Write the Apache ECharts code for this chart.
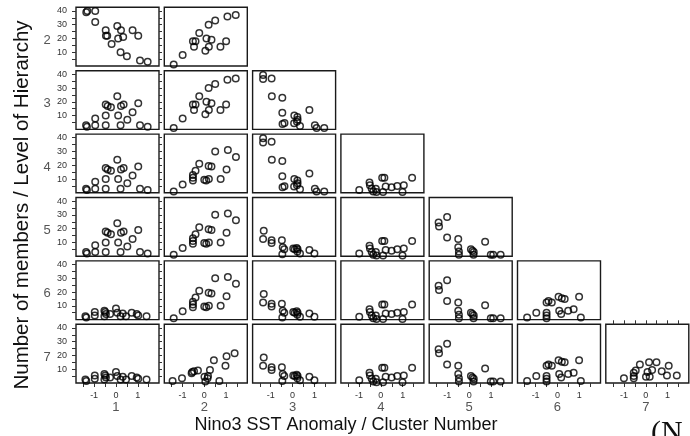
<!DOCTYPE html>
<html><head><meta charset="utf-8">
<script src="https://cdn.jsdelivr.net/npm/echarts@6/dist/echarts.min.js"></script>
<style>html,body{margin:0;padding:0;background:#fff}#c{width:690px;height:436px}</style>
</head><body><div id="c"></div>
<script>
// ---- data ----
const levels = [2, 3, 4, 5, 6, 7];            // level of hierarchy (rows)
const clusters = [1, 2, 3, 4, 5, 6, 7];       // cluster number (columns)
const xTicks = [-1.5, -1, -0.5, 0, 0.5, 1, 1.5];
const xTickLabels = [-1, 0, 1];
const yTicks = [5, 10, 15, 20, 25, 30, 35, 40];
const yTickLabels = [10, 20, 30, 40];
const xTitle = 'Nino3 SST Anomaly / Cluster Number';
const yTitle = 'Number of members / Level of Hierarchy';
const cornerText = '(N';

// [Nino3 SST anomaly, number of members] read per distinct panel
const lev2c1 = [[-1.36,39],[-1.31,40],[-0.95,40],[-0.95,32],[-0.47,26],[-0.46,22],[-0.40,22],[-0.20,16],[0.06,29],[0.23,26],[0.10,20],[0.33,21],[0.21,10],[0.50,7],[0.76,26],[1.02,22],[1.10,4],[1.45,3]];
const lev2c2 = [[-1.40,1],[-0.99,8],[-0.52,18],[-0.40,18],[-0.47,14],[-0.23,24],[0.20,30],[0.50,33],[0.10,20],[0.33,19],[0.05,11],[0.21,14],[0.74,14],[1.00,18],[1.06,36],[1.44,37]];
const lev3c1 = [[-1.37,3],[-1.33,2],[-0.95,8],[-0.95,3],[-0.47,10],[-0.47,3],[-0.47,18],[-0.38,17],[-0.23,16],[0.06,24],[0.23,17],[0.35,18],[0.10,10],[0.21,3],[0.52,7],[0.76,12.5],[1.02,19],[1.10,3],[1.45,2]];
const lev3c3 = [[-1.35,39.5],[-1.35,36.5],[-0.96,37],[-0.95,24],[-0.47,23],[-0.47,12],[-0.46,4],[-0.37,4.7],[0.08,10],[0.22,9],[0.23,7],[0.20,5.5],[0.07,4.5],[0.34,2.5],[0.77,14],[1.02,3],[1.10,1],[1.45,1]];
const lev4c2 = [[-1.40,1],[-0.99,6],[-0.52,13],[-0.52,11],[-0.52,9],[-0.40,16],[-0.23,21],[0.00,9.5],[0.09,9],[0.21,10],[0.20,19.5],[0.33,19],[0.50,30],[0.75,10],[1.02,17],[1.08,31],[1.45,26]];
const lev4c4 = [[-0.99,2],[-0.52,7.5],[-0.50,5.5],[-0.42,3],[-0.35,1],[-0.23,3],[-0.20,0.5],[0.06,11],[0.16,11],[0.10,0.5],[0.22,4.5],[0.49,4],[0.75,5],[1.05,5.5],[0.99,0.5],[1.43,11]];
const lev5c3 = [[-1.32,18.5],[-1.35,12.5],[-0.96,11.5],[-0.96,9.5],[-0.49,11.5],[-0.45,6.5],[-0.38,5],[-0.47,1.5],[0.03,5.5],[0.10,5],[0.19,6],[0.23,5],[0.22,3.5],[0.34,2],[0.77,4.5],[1.00,2]];
const lev5c5 = [[-1.40,24.5],[-1.38,21.5],[-1.01,28.5],[-1.01,13.5],[-0.50,12.5],[-0.50,6.5],[-0.47,3.5],[-0.47,1],[0.08,5],[0.15,4],[0.21,3],[0.20,1],[0.73,10.5],[0.99,1],[1.10,1],[1.44,1]];
const lev6c1 = [[-1.40,2.5],[-1.36,1.5],[-0.97,5.5],[-0.97,3],[-0.53,6.5],[-0.49,5.5],[-0.46,4],[-0.53,2.5],[-0.27,4],[0.00,8],[0.06,5],[0.21,2.5],[0.31,4.5],[0.46,2.5],[0.72,5],[0.95,4],[1.02,3],[1.40,2.5]];
const lev6c6 = [[-1.39,1.5],[-0.97,5],[-0.50,5],[-0.50,3],[-0.50,1],[-0.50,12.5],[-0.41,13.5],[-0.26,12.5],[0.05,16.5],[0.20,15.5],[0.33,15],[0.08,6.5],[0.17,4],[0.49,6.5],[0.74,7.5],[0.99,16.5],[1.07,1.5]];
const lev7c2 = [[-1.45,1.5],[-1.02,3.5],[-0.58,7],[-0.55,8],[-0.47,8.5],[-0.29,9],[0.01,4.5],[0.17,5],[0.05,1],[0.15,3.5],[0.26,9.5],[0.44,16.5],[0.69,1.5],[0.97,12.5],[1.02,19.5],[1.39,21.5]];
const lev7c7 = [[-1.00,3.5],[-0.55,7.5],[-0.46,9],[-0.55,5],[-0.55,3.5],[-0.27,13.5],[0.01,4.5],[0.18,4.5],[0.15,15],[0.49,15],[0.08,8],[0.29,9.5],[0.73,8.5],[0.97,5.5],[1.05,12.5],[1.42,5.5]];

// which data set is shown in panel "level-cluster"
const panelData = {
  '2-1': lev2c1, '2-2': lev2c2,
  '3-1': lev3c1, '3-2': lev2c2, '3-3': lev3c3,
  '4-1': lev3c1, '4-2': lev4c2, '4-3': lev3c3, '4-4': lev4c4,
  '5-1': lev3c1, '5-2': lev4c2, '5-3': lev5c3, '5-4': lev4c4, '5-5': lev5c5,
  '6-1': lev6c1, '6-2': lev4c2, '6-3': lev5c3, '6-4': lev4c4, '6-5': lev5c5, '6-6': lev6c6,
  '7-1': lev6c1, '7-2': lev7c2, '7-3': lev5c3, '7-4': lev4c4, '7-5': lev5c5, '7-6': lev6c6, '7-7': lev7c7
};

// ---- layout ----
const X0 = 76, XP = 88.3, PW = 83;
const Y0 = 7.3, YP = 63.4, PH = 58.7;
const XMIN = -1.83, XMAX = 1.97, YMIN = 0, YMAX = 42.6;
const tickColor = '#333';
const font = "'Liberation Sans', Arial, Helvetica, sans-serif";

const grid = [], xAxis = [], yAxis = [], series = [], graphic = [];
levels.forEach((lev, ri) => {
  clusters.forEach((cl, ci) => {
    if (cl > lev) return;
    const g = grid.length;
    const left = X0 + XP * ci, top = Y0 + YP * ri;
    grid.push({left: left, top: top, width: PW, height: PH, show: true,
      borderColor: '#1a1a1a', borderWidth: 1.4, containLabel: false});
    const bottomRow = lev === 7;
    const xi = xAxis.length;
    xAxis.push({gridIndex: g, type: 'value', min: XMIN, max: XMAX, position: 'bottom',
      axisLine: {show: false, onZero: false}, splitLine: {show: false},
      axisTick: {show: bottomRow, customValues: xTicks, length: 4, lineStyle: {color: tickColor, width: 1}},
      axisLabel: {show: bottomRow, customValues: xTickLabels, fontSize: 9, color: tickColor, margin: 8, fontFamily: font,
        formatter: v => String(v)}});
    if (lev === 7 && cl === 7) {
      xAxis.push({gridIndex: g, type: 'value', min: XMIN, max: XMAX, position: 'top',
        axisLine: {show: false, onZero: false}, splitLine: {show: false},
        axisTick: {show: true, customValues: xTicks, length: 4, lineStyle: {color: tickColor, width: 1}},
        axisLabel: {show: false}});
    }
    const yi = yAxis.length;
    const firstCol = cl === 1;
    yAxis.push({gridIndex: g, type: 'value', min: YMIN, max: YMAX, position: 'left',
      axisLine: {show: false, onZero: false}, splitLine: {show: false},
      axisTick: {show: firstCol, customValues: yTicks, length: 4, lineStyle: {color: tickColor, width: 1}},
      axisLabel: {show: firstCol, customValues: yTickLabels, fontSize: 9, color: tickColor, margin: 9, fontFamily: font}});
    if (firstCol) {
      yAxis.push({gridIndex: g, type: 'value', min: YMIN, max: YMAX, position: 'right',
        axisLine: {show: false, onZero: false}, splitLine: {show: false},
        axisTick: {show: true, customValues: yTicks, length: 3, lineStyle: {color: tickColor, width: 1}},
        axisLabel: {show: false}});
    }
    series.push({type: 'scatter', xAxisIndex: xi, yAxisIndex: yi, data: panelData[lev + '-' + cl],
      symbol: 'circle', symbolSize: 6.5, silent: true, clip: true,
      itemStyle: {color: 'rgba(0,0,0,0)', borderColor: '#000', borderWidth: 1.5}});
  });
  // row label (level)
  graphic.push({type: 'text', x: 47, y: Y0 + YP * ri + 33,
    style: {text: String(lev), fill: '#555', font: '13px ' + font, align: 'center', verticalAlign: 'middle'}});
});
// column labels (cluster number)
clusters.forEach((cl, ci) => {
  const x0 = X0 + XP * ci + (0 - XMIN) / (XMAX - XMIN) * PW;
  graphic.push({type: 'text', x: x0, y: 407,
    style: {text: String(cl), fill: '#555', font: '13px ' + font, align: 'center', verticalAlign: 'middle'}});
});
graphic.push({type: 'text', x: 346, y: 425,
  style: {text: xTitle, fill: '#111', font: '18px ' + font, align: 'center', verticalAlign: 'middle'}});
graphic.push({type: 'text', x: 22, y: 205, rotation: Math.PI / 2,
  style: {text: yTitle, fill: '#111', font: '20.5px ' + font, align: 'center', verticalAlign: 'middle'}});
graphic.push({type: 'text', x: 651, y: 433,
  style: {text: cornerText, fill: '#111', font: "30px 'Liberation Serif', 'Times New Roman', serif", align: 'left', verticalAlign: 'middle'}});

const chart = echarts.init(document.getElementById('c'), null, {renderer: 'canvas'});
chart.setOption({animation: false, backgroundColor: '#fff', grid, xAxis, yAxis, series, graphic});
</script></body></html>
